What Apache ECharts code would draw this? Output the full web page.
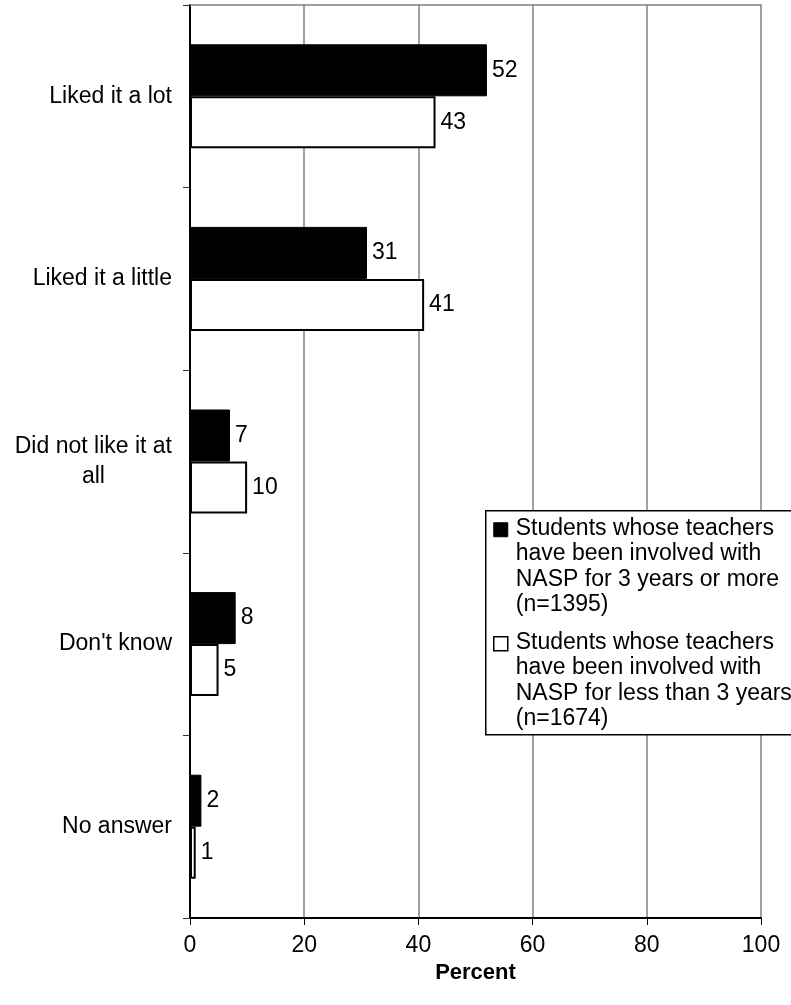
<!DOCTYPE html>
<html>
<head>
<meta charset="utf-8">
<script src="https://cdn.jsdelivr.net/npm/echarts@6/dist/echarts.min.js"></script>
<style>
  html, body { margin: 0; padding: 0; background: #fff; }
  #chart { width: 791px; height: 1005px; }
</style>
</head>
<body>
<div id="chart"></div>
<script>
const FONT = 'Arial, "Liberation Sans", sans-serif';

// data
const categories = ['Liked it a lot', 'Liked it a little', 'Did not like it at all', "Don't know", 'No answer'];
const threePlus = [52, 31, 7, 8, 2];
const underThree = [43, 41, 10, 5, 1];
const seriesNames = [
    'Students whose teachers\nhave been involved with\nNASP for 3 years or more\n(n=1395)',
    'Students whose teachers\nhave been involved with\nNASP for less than 3 years\n(n=1674)'
];
const xMin = 0, xMax = 100, xStep = 20;

// category labels wrap like the original (each line centred in its block)
function wrapLabel(v) {
    if (v === 'Did not like it at all') {
        return '{c|Did not like it at}\n{c|all}';
    }
    return '{c|' + v + '}';
}

let myChart = echarts.init(document.getElementById('chart'), null, { renderer: 'canvas' });

const labelStyle = {
    show: true,
    position: 'right',
    distance: 5,
    color: '#000',
    fontSize: 23,
    fontFamily: FONT
};

let option = {
    animation: false,
    backgroundColor: '#fff',
    textStyle: { fontFamily: FONT },
    grid: { left: 190, right: 30, top: 5, bottom: 87, containLabel: false },
    xAxis: [
        {
            type: 'value',
            min: xMin,
            max: xMax,
            interval: xStep,
            name: 'Percent',
            nameLocation: 'middle',
            nameGap: 42,
            nameTextStyle: { color: '#000', fontSize: 22, fontWeight: 'bold', fontFamily: FONT },
            axisLine: { show: true, lineStyle: { color: '#000', width: 2 } },
            axisTick: { show: true, length: 7, lineStyle: { color: '#000' } },
            axisLabel: { color: '#000', fontSize: 23, margin: 16, fontFamily: FONT },
            splitLine: { show: true, lineStyle: { color: '#808080', width: 1.5 } }
        },
        {
            // top border of the plot area
            type: 'value',
            position: 'top',
            min: xMin,
            max: xMax,
            interval: xStep,
            axisLine: { show: true, lineStyle: { color: '#808080', width: 1.5 } },
            axisTick: { show: false },
            axisLabel: { show: false },
            splitLine: { show: false }
        }
    ],
    yAxis: [
        {
            type: 'category',
            data: categories,
            inverse: true,
            axisLine: { show: true, lineStyle: { color: '#000', width: 2 } },
            axisTick: { show: true, length: 7, lineStyle: { color: '#333' } },
            axisLabel: {
                color: '#000',
                fontSize: 23,
                margin: 18,
                align: 'right',
                lineHeight: 30,
                fontFamily: FONT,
                formatter: wrapLabel,
                rich: { c: { align: 'center', fontSize: 23, color: '#000', fontFamily: FONT, lineHeight: 30 } }
            },
            splitLine: { show: false }
        },
        {
            // right border of the plot area
            type: 'category',
            data: categories,
            inverse: true,
            position: 'right',
            axisLine: { show: true, lineStyle: { color: '#000', width: 2 } },
            axisTick: { show: false },
            axisLabel: { show: false },
            splitLine: { show: false }
        }
    ],
    series: [
        {
            name: seriesNames[0],
            type: 'bar',
            data: threePlus,
            barWidth: 52,
            barGap: '0%',
            itemStyle: { color: '#000', borderColor: '#000', borderWidth: 1 },
            label: labelStyle
        },
        {
            name: seriesNames[1],
            type: 'bar',
            data: underThree,
            barWidth: 52,
            barGap: '0%',
            itemStyle: { color: '#fff', borderColor: '#000', borderWidth: 2 },
            label: labelStyle
        }
    ],
    graphic: [
        {
            type: 'group',
            left: 485,
            top: 510,
            z: 100,
            zlevel: 1,
            children: [
                {
                    type: 'rect',
                    z: 100,
                    shape: { x: 0, y: 0, width: 330, height: 224 },
                    style: { fill: '#fff', stroke: '#000', lineWidth: 1.5 }
                },
                {
                    type: 'rect',
                    z: 101,
                    shape: { x: 8, y: 12, width: 14, height: 14 },
                    style: { fill: '#000', stroke: '#000', lineWidth: 1 }
                },
                {
                    type: 'text',
                    z: 101,
                    style: {
                        x: 30, y: 5,
                        text: seriesNames[0],
                        fill: '#000',
                        font: '23px ' + FONT,
                        lineHeight: 25.5,
                        verticalAlign: 'top'
                    }
                },
                {
                    type: 'rect',
                    z: 101,
                    shape: { x: 8, y: 126, width: 14, height: 14 },
                    style: { fill: '#fff', stroke: '#000', lineWidth: 1.5 }
                },
                {
                    type: 'text',
                    z: 101,
                    style: {
                        x: 30, y: 119,
                        text: seriesNames[1],
                        fill: '#000',
                        font: '23px ' + FONT,
                        lineHeight: 25.5,
                        verticalAlign: 'top'
                    }
                }
            ]
        }
    ]
};

option && myChart.setOption(option);
</script>
</body>
</html>
